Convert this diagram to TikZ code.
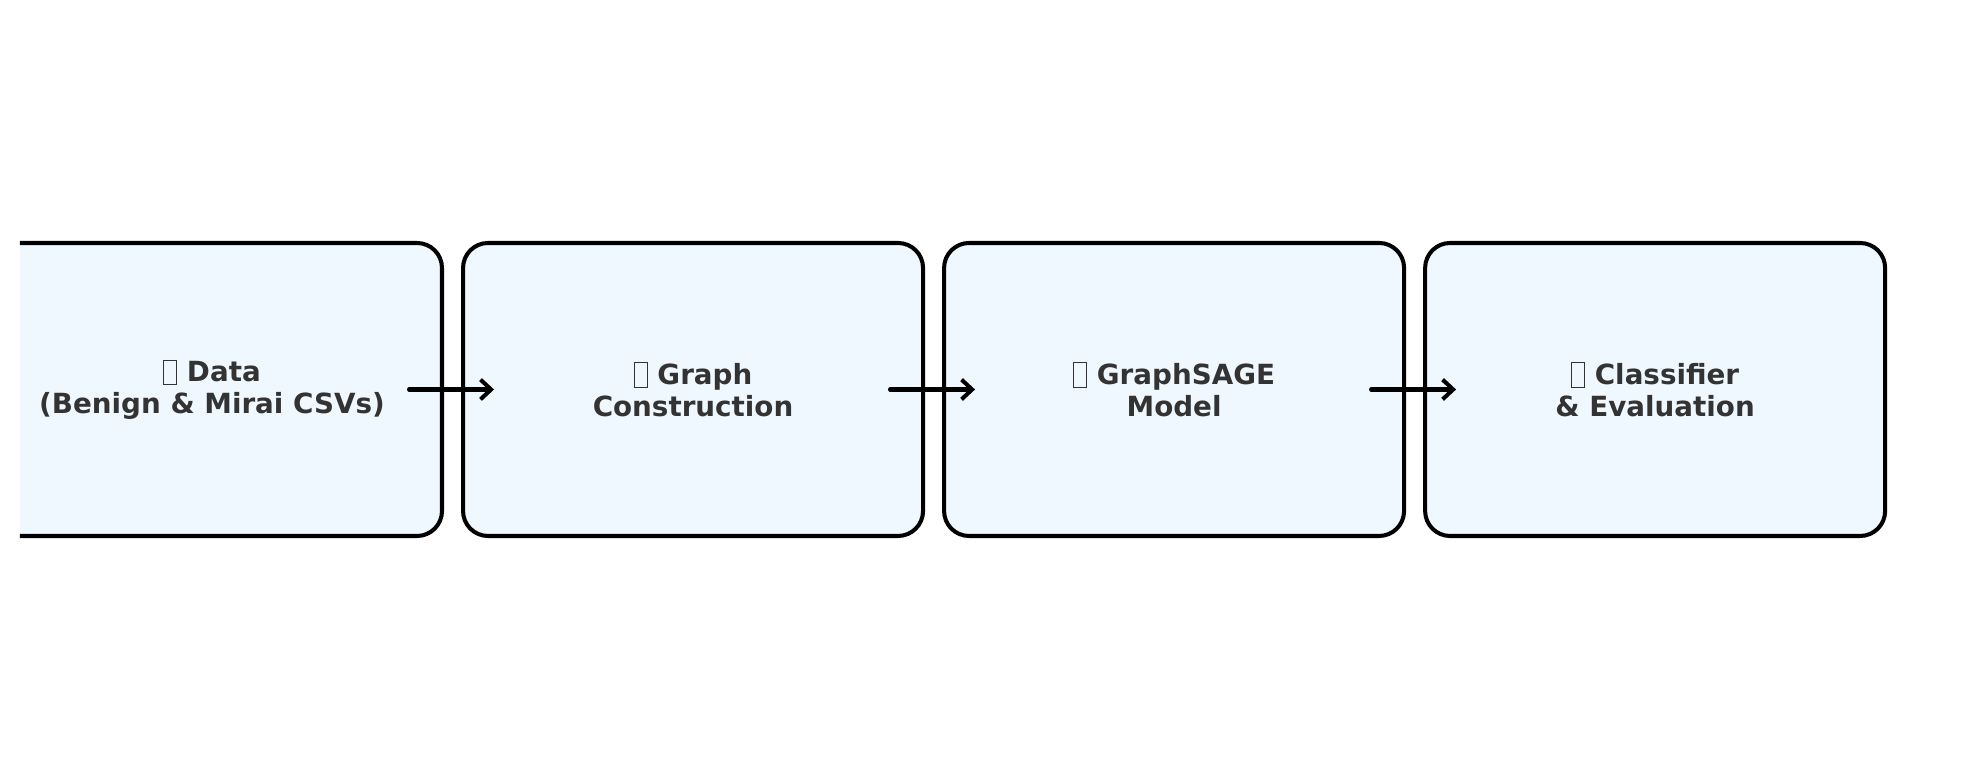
\documentclass[tikz,border=0pt]{standalone}
\usepackage{fontspec}
\setmainfont{DejaVu Sans}
\usetikzlibrary{positioning,arrows.meta}
\definecolor{boxfill}{HTML}{F0F8FF}
\definecolor{txt}{HTML}{333333}
\newcommand\tofu{\raisebox{-0.6pt}{\textcolor{txt}{\fboxsep=0pt\fboxrule=0.3pt\fbox{\rule{0pt}{6.6pt}\hspace{3.4pt}}}}}
\tikzset{stage/.style={rectangle,draw,line width=1.15pt,rounded corners=0.25cm,fill=boxfill,
  minimum width=4.6cm,minimum height=2.93cm,align=center,text=txt,
  font=\bfseries\fontsize{7.9}{9}\selectfont}}
\tikzset{flow/.style={line width=1.15pt,line cap=round,-{Straight Barb[length=3pt,width=5.6pt]}}}

\begin{document}
\begin{tikzpicture}
    \useasboundingbox (0,0) rectangle (19.62,7.8);
    \begin{scope}
      \clip (0.2,0) rectangle (19.62,7.8);
      \node[stage] (data) at (2.12,3.905) {\tofu{} Data\\(Benign \& Mirai CSVs)};
      \node[stage,right=0.17cm of data] (graph) {\tofu{} Graph\\Construction};
      \node[stage,right=0.17cm of graph] (sage) {\tofu{} GraphSAGE\\Model};
      \node[stage,right=0.17cm of sage] (clf) {\tofu{} Classifier\\\& Evaluation};
    \end{scope}
    \draw[flow] ([xshift=-0.35cm]data.east) -- ([xshift=0.33cm]graph.west);
    \draw[flow] ([xshift=-0.35cm]graph.east) -- ([xshift=0.33cm]sage.west);
    \draw[flow] ([xshift=-0.35cm]sage.east) -- ([xshift=0.33cm]clf.west);
\end{tikzpicture}
\end{document}
